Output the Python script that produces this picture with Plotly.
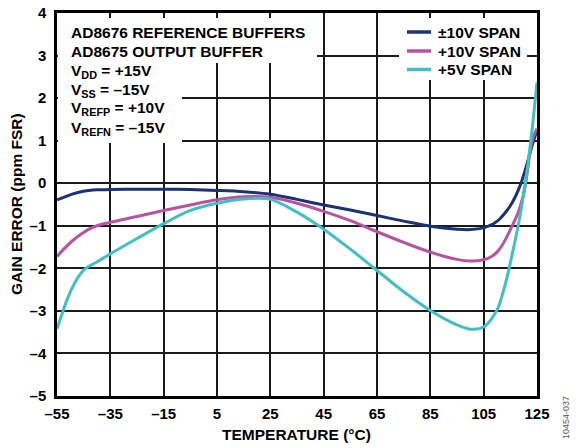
import plotly.graph_objects as go

# ---- data ----
temp_pm10 = [-55, -52, -49, -46, -43, -40, -35, -25, -15, -5, 5, 15, 25, 35, 45, 55, 65, 75, 85, 95, 100, 105, 107, 109, 111, 113, 115, 117, 119, 121, 123, 125]
gain_pm10 = [-0.39, -0.32, -0.25, -0.20, -0.17, -0.155, -0.15, -0.14, -0.14, -0.15, -0.17, -0.20, -0.26, -0.38, -0.51, -0.63, -0.76, -0.89, -1.01, -1.08, -1.09, -1.05, -1.00, -0.94, -0.84, -0.70, -0.53, -0.30, 0.00, 0.40, 0.85, 1.25]

temp_p10 = [-55, -52, -49, -46, -43, -40, -35, -25, -15, -5, 5, 15, 25, 35, 45, 55, 65, 75, 85, 95, 100, 105, 108, 110, 112, 114, 116, 118, 119, 120, 121, 122, 123, 124, 125]
gain_p10 = [-1.72, -1.52, -1.34, -1.20, -1.08, -1.00, -0.92, -0.78, -0.64, -0.51, -0.39, -0.32, -0.33, -0.47, -0.66, -0.88, -1.14, -1.39, -1.62, -1.79, -1.83, -1.80, -1.72, -1.62, -1.45, -1.22, -0.96, -0.68, -0.48, -0.25, 0.10, 0.55, 0.95, 1.15, 1.28]

temp_p5 = [-55, -53, -51, -49, -47, -45, -43, -40, -35, -25, -15, -5, 5, 15, 25, 35, 45, 55, 65, 75, 85, 95, 100, 105, 110, 112, 114, 116, 118, 120, 122, 123.5, 125]
gain_p5 = [-3.42, -3.05, -2.70, -2.42, -2.20, -2.04, -1.95, -1.85, -1.66, -1.30, -0.95, -0.64, -0.47, -0.37, -0.38, -0.68, -1.08, -1.55, -2.05, -2.55, -2.99, -3.33, -3.43, -3.38, -2.98, -2.62, -2.15, -1.58, -0.98, -0.25, 0.65, 1.45, 2.37]

series_names = ["\u00b110V SPAN", "+10V SPAN", "+5V SPAN"]
series_colors = ["#1a3278", "#b9529f", "#41bfc6"]

x_ticks = [-55, -35, -15, 5, 25, 45, 65, 85, 105, 125]
x_ticktext = [str(v).replace("-", "\u2013") for v in x_ticks]
y_ticks = [4, 3, 2, 1, 0, -1, -2, -3, -4, -5]
y_ticktext = [str(v).replace("-", "\u2013") for v in y_ticks]

info_lines_top = ["AD8676 REFERENCE BUFFERS", "AD8675 OUTPUT BUFFER"]
info_lines_bot = ["V<sub>DD</sub> = +15V", "V<sub>SS</sub> = \u201315V",
                  "V<sub>REFP</sub> = +10V", "V<sub>REFN</sub> = \u201315V"]

FONT = "Liberation Sans, Arial, sans-serif"

fig = go.Figure()
for xs, ys, name, col in zip([temp_pm10, temp_p10, temp_p5],
                             [gain_pm10, gain_p10, gain_p5],
                             series_names, series_colors):
    fig.add_trace(go.Scatter(x=xs, y=ys, name=name, mode="lines", showlegend=False,
                             line=dict(color=col, width=3, shape="spline", smoothing=0.9)))

# plot geometry in pixels
L, R, T, B = 57, 39, 13, 52
W, H = 576, 448
pw, ph = W - L - R, H - T - B

def px_x(p):
    return (p - L) / pw

def px_y(p):
    return 1 - (p - T) / ph

# white background boxes behind the text block and legend
fig.add_shape(type="rect", xref="paper", yref="paper",
              x0=px_x(58), x1=px_x(317), y0=px_y(63), y1=px_y(18),
              fillcolor="white", line_width=0, layer="above")
fig.add_shape(type="rect", xref="paper", yref="paper",
              x0=px_x(58), x1=px_x(182), y0=px_y(143), y1=px_y(62),
              fillcolor="white", line_width=0, layer="above")
fig.add_shape(type="rect", xref="paper", yref="paper",
              x0=px_x(399), x1=px_x(527), y0=px_y(80), y1=px_y(18),
              fillcolor="white", line_width=0, layer="above")

tfont = dict(family=FONT, size=15.5, color="black", weight="bold")
for txt, yc in zip(info_lines_top + info_lines_bot, [32, 51.5, 71, 90, 109, 128]):
    fig.add_annotation(text=txt, xref="paper", yref="paper", x=px_x(69), y=px_y(yc),
                       xanchor="left", yanchor="middle", showarrow=False, font=tfont)

# legend (key drawn as sample line + label)
for name, col, yc in zip(series_names, series_colors, [32, 51, 69.5]):
    fig.add_shape(type="line", xref="paper", yref="paper",
                  x0=px_x(407), x1=px_x(431), y0=px_y(yc), y1=px_y(yc),
                  line=dict(color=col, width=3.5), layer="above")
    fig.add_annotation(text=name, xref="paper", yref="paper", x=px_x(436), y=px_y(yc),
                       xanchor="left", yanchor="middle", showarrow=False, font=tfont)

# axis titles
fig.add_annotation(text="TEMPERATURE (\u00b0C)", xref="paper", yref="paper",
                   x=px_x(296), y=px_y(434), xanchor="center", yanchor="middle",
                   showarrow=False, font=tfont)
fig.add_annotation(text="GAIN ERROR (ppm FSR)", xref="paper", yref="paper",
                   x=px_x(17), y=px_y(204), xanchor="center", yanchor="middle",
                   textangle=-90, showarrow=False, font=tfont)
fig.add_annotation(text="10454-037", xref="paper", yref="paper",
                   x=px_x(566), y=px_y(418), xanchor="center", yanchor="middle",
                   textangle=-90, showarrow=False,
                   font=dict(family=FONT, size=9, color="#555555"))

axis_common = dict(showgrid=True, gridcolor="#1a1a1a", gridwidth=1.5,
                   showline=True, linecolor="black", linewidth=2.5, mirror=True,
                   zeroline=False, ticks="", automargin=False,
                   tickfont=dict(family=FONT, size=15, color="black", weight="bold"))

fig.update_xaxes(range=[-55, 125], tickvals=x_ticks, ticktext=x_ticktext,
                 ticklabelstandoff=2, **axis_common)
fig.update_yaxes(range=[-5, 4], tickvals=y_ticks, ticktext=y_ticktext,
                 ticklabelstandoff=5, **axis_common)

fig.update_layout(
    width=W, height=H,
    margin=dict(l=L, r=R, t=T, b=B, pad=0, autoexpand=False),
    paper_bgcolor="white", plot_bgcolor="white",
    showlegend=False,
)

fig.write_html("out.html", config={"displayModeBar": False},
               post_script="document.body.style.margin='0px';document.body.style.padding='0px';")
